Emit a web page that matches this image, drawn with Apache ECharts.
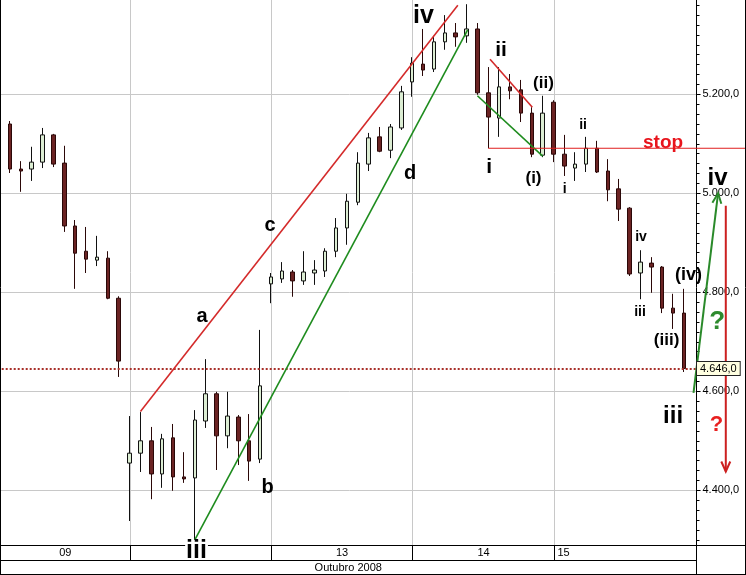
<!DOCTYPE html>
<html><head><meta charset="utf-8">
<script src="https://cdn.jsdelivr.net/npm/echarts@6/dist/echarts.min.js"></script>
<style>html,body{margin:0;padding:0;background:#fff}#c{width:746px;height:575px}</style>
</head><body><div id="c"></div>
<script>
// ---------- data ----------
const dayLabels = ['09', '10', '13', '14', '15'];
const candlesPerDay = [12, 13, 13, 13, 13];
const monthLabel = 'Outubro 2008';
const opens = [5138,5140,5049,5049,5063,5118,5061,4934,4883,4865,4869,4788,
  4455,4475,4500,4433,4506,4427,4425,4540,4595,4510,4548,4500,4463,
  4817,4827,4841,4823,4839,4843,4883,4930,4982,5059,5114,5087,5132,
  5225,5261,5251,5306,5324,5318,5332,5203,5152,5215,5209,5162,5077,
  5184,5079,5051,5059,5091,5045,5009,4970,4839,4859,4851,4768,4758];
const closes = [5124,5049,5045,5063,5118,5059,4934,4879,4867,4871,4788,4661,
  4475,4500,4433,4504,4427,4423,4542,4595,4510,4550,4500,4459,4611,
  4831,4843,4823,4841,4845,4883,4930,4984,5061,5112,5085,5134,5205,
  5263,5249,5306,5324,5316,5332,5203,5154,5215,5207,5162,5079,5162,
  5079,5055,5059,5091,5043,5007,4968,4837,4861,4851,4768,4758,4646];
const lows = [5118,5041,5003,5025,5051,5053,4922,4807,4839,4853,4786,4629,
  4338,4437,4382,4405,4399,4415,4300,4526,4441,4485,4451,4419,4455,
  4778,4819,4791,4815,4815,4831,4871,4896,4976,5045,5083,5071,5128,
  5195,5237,5245,5290,5296,5304,5199,5091,5114,5190,5144,5073,5073,
  5063,5035,5025,5043,5041,4984,4944,4833,4786,4799,4758,4726,4639];
const highs = [5144,5146,5065,5094,5132,5120,5096,4946,4932,4914,4883,4792,
  4550,4558,4528,4514,4534,4477,4562,4665,4599,4599,4552,4554,4724,
  4839,4861,4845,4883,4865,4889,4950,4999,5083,5122,5134,5140,5217,
  5275,5332,5318,5360,5344,5382,5344,5255,5255,5241,5229,5174,5197,
  5188,5118,5083,5114,5106,5069,5029,4972,4885,4871,4853,4797,4807];
const lastPrice = 4646;
const yMin = 4200, yMax = 5400, yStep = 200;

// annotations in (candle index, price) space
const trendRedAC = [[13, 4559], [42.2, 5380]];
const trendGreenBD = [[18, 4300], [43.1, 5330]];
const trendRedII = [[45.16, 5271], [49.05, 5174]];
const trendGreenI = [[44, 5197], [50, 5075]];
const stopLevel = 5091, stopFromIdx = 45.0;
const arrowUp = [[63.88, 4597], [66.14, 5000]];
const arrowDown = [[66.85, 4975], [66.85, 4438]];
const waveLabels = [
  ['iv', 39.04, 5357, 25, '#000'], ['iii', 18.16, 4277, 25, '#000'],
  ['a', 18.67, 4752, 20, '#000'], ['c', 24.92, 4935, 20, '#000'],
  ['b', 24.69, 4405, 20, '#000'], ['d', 37.8, 5040, 20, '#000'],
  ['ii', 46.17, 5290, 21, '#000'], ['i', 45.07, 5053, 21, '#000'],
  ['(ii)', 50.08, 5223, 17, '#000'], ['(i)', 49.16, 5030, 17, '#000'],
  ['stop', 61.08, 5103, 19, '#e8141c'],
  ['ii', 53.72, 5137, 14, '#000'], ['i', 52.02, 5009, 14, '#000'],
  ['iv', 59.05, 4911, 14, '#000'], ['iii', 58.96, 4759, 14, '#000'],
  ['(iv)', 63.42, 4835, 18, '#000'], ['(iii)', 61.4, 4704, 17, '#000'],
  ['iii', 62.0, 4550, 24, '#000'], ['iv', 66.09, 5031, 24, '#000'],
  ['?', 66.05, 4740, 26, '#2e8b2e'], ['?', 66.0, 4532, 22, '#e82020']
];

// ---------- build ----------
const categories = [];
const dayStart = [];
dayLabels.forEach((d, di) => {
  dayStart.push(categories.length);
  for (let k = 0; k < candlesPerDay[di]; k++) categories.push(d + ' #' + (k + 1));
});
categories.push('');
const candleData = opens.map((o, i) => [o, closes[i], lows[i], highs[i]]);

function fmt(v) {
  const s = v.toFixed(1).split('.');
  return s[0].replace(/\B(?=(\d{3})+(?!\d))/g, '.') + ',' + s[1];
}
const FONT = '"Liberation Sans", Arial, sans-serif';
const band = 10.87;
const chart = echarts.init(document.getElementById('c'), null, {renderer: 'canvas'});
chart.setOption({
  animation: false,
  backgroundColor: '#fff',
  grid: {left: -6.3, top: -4.7, width: band * categories.length, height: 594,
         show: false, containLabel: false, outerBoundsMode: 'none'},
  xAxis: {type: 'category', data: categories, boundaryGap: true,
          axisLine: {show: false}, axisTick: {show: false}, axisLabel: {show: false},
          splitLine: {show: false}},
  yAxis: {type: 'value', position: 'right', offset: -3.75, min: yMin, max: yMax, interval: yStep,
          axisLine: {show: true, lineStyle: {color: '#000', width: 1}},
          axisTick: {show: true, length: 4, lineStyle: {color: '#000'}},
          minorTick: {show: true, splitNumber: 10, length: 3, lineStyle: {color: '#000'}},
          axisLabel: {color: '#000', fontSize: 11, fontFamily: FONT, margin: 6,
                      formatter: v => (v === yMin || v === yMax) ? '' : fmt(v)},
          splitLine: {show: true, lineStyle: {color: '#c8c8c8', width: 1}}},
  series: [{
    type: 'candlestick', data: candleData, barWidth: 4,
    itemStyle: {color: '#dcedd3', color0: '#6b2323', borderColor: '#111', borderColor0: '#2b0808', borderWidth: 1},
    markLine: {silent: true, symbol: 'none', label: {show: false},
      data: [{yAxis: lastPrice, lineStyle: {color: '#a8302a', width: 2, type: [2, 2]}}]}
  }]
});

function px(idx, val) {
  const a = chart.convertToPixel({xAxisIndex: 0, yAxisIndex: 0}, [0, val]);
  const b = chart.convertToPixel({xAxisIndex: 0, yAxisIndex: 0}, [1, val]);
  return [a[0] + (b[0] - a[0]) * idx, a[1]];
}
const g = [];
function poly(pts, color, w, z) {
  g.push({type: 'polyline', silent: true, z: z || 20,
    shape: {points: pts.map(p => px(p[0], p[1]))}, style: {stroke: color, lineWidth: w, fill: null}});
}
function head(seg, color, w) {
  const p0 = px(seg[0][0], seg[0][1]), p1 = px(seg[1][0], seg[1][1]);
  const dx = p1[0] - p0[0], dy = p1[1] - p0[1], L = Math.hypot(dx, dy);
  const ux = dx / L, uy = dy / L, nx = -uy, ny = ux, hl = 10, hw = 4.5;
  g.push({type: 'polyline', silent: true, z: 30, shape: {points: [
    [p1[0] - ux * hl + nx * hw, p1[1] - uy * hl + ny * hw], p1,
    [p1[0] - ux * hl - nx * hw, p1[1] - uy * hl - ny * hw]]},
    style: {stroke: color, lineWidth: w, fill: null}});
}
const W = 746, H = 575;
// day gridlines (beneath candles)
dayStart.slice(1).forEach(i => {
  const x = Math.round(px(i, yMin)[0]) + 0.5;
  g.push({type: 'line', silent: true, z: 1, shape: {x1: x, y1: 0, x2: x, y2: 545}, style: {stroke: '#c8c8c8', lineWidth: 1}});
});
poly(trendRedAC, '#d42a2a', 1.6);
poly(trendGreenBD, '#1e8c1e', 1.6);
poly(trendRedII, '#d42a2a', 1.6);
poly(trendGreenI, '#1e8c1e', 1.6);
const sp = px(stopFromIdx, stopLevel);
g.push({type: 'line', silent: true, z: 20, shape: {x1: sp[0], y1: sp[1], x2: W, y2: sp[1]}, style: {stroke: '#e01e1e', lineWidth: 1}});
poly(arrowUp, '#2a8a2a', 2, 30); head(arrowUp, '#2a8a2a', 2);
poly(arrowDown, '#cc2020', 2, 30); head(arrowDown, '#cc2020', 2);

// bottom rows
const bandTop = 545, rowMid = 560.5, axisX = 696.5;
g.push({type: 'rect', silent: true, z: 50, shape: {x: 0, y: bandTop, width: W, height: H - bandTop}, style: {fill: '#fff'}});
const frame = [[0.5, 0, 0.5, H], [W - 0.5, 0, W - 0.5, H], [0, bandTop + 0.5, W, bandTop + 0.5],
  [0, rowMid, axisX, rowMid], [0, H - 0.5, W, H - 0.5], [axisX, bandTop, axisX, H]];
frame.forEach(f => g.push({type: 'line', silent: true, z: 55, shape: {x1: f[0], y1: f[1], x2: f[2], y2: f[3]}, style: {stroke: '#000', lineWidth: 1}}));
const starts = dayStart.map(i => Math.round(px(i, yMin)[0]) + 0.5);
starts.slice(1).forEach(x => g.push({type: 'line', silent: true, z: 55, shape: {x1: x, y1: bandTop, x2: x, y2: rowMid}, style: {stroke: '#000', lineWidth: 1}}));
const ends = starts.slice(1).concat([axisX]);
dayLabels.forEach((d, i) => {
  const last = i === dayLabels.length - 1;
  const x0 = i === 0 ? 0 : starts[i];
  g.push({type: 'text', silent: true, z: 56, x: last ? x0 + 3 : (x0 + ends[i]) / 2, y: (bandTop + rowMid) / 2 + 0.5,
    style: {text: d, font: '11px ' + FONT, fill: '#000', align: last ? 'left' : 'center', verticalAlign: 'middle'}});
});
g.push({type: 'text', silent: true, z: 56, x: axisX / 2, y: (rowMid + H) / 2,
  style: {text: monthLabel, font: '11px ' + FONT, fill: '#000', align: 'center', verticalAlign: 'middle'}});

// last price box
const lp = px(0, lastPrice);
g.push({type: 'text', silent: true, z: 60, x: axisX + 0.5, y: lp[1],
  style: {text: fmt(lastPrice), font: '11px ' + FONT, fill: '#000', align: 'left', verticalAlign: 'middle',
          backgroundColor: '#ffffe1', borderColor: '#222', borderWidth: 1, padding: [1, 3, 1, 3]}});

// wave labels
waveLabels.forEach((l, k) => {
  const p = px(l[1], l[2]);
  const st = {text: l[0], font: 'bold ' + l[3] + 'px ' + FONT, fill: l[4], align: 'center', verticalAlign: 'middle'};
  if (k === 1) { st.backgroundColor = '#fff'; st.padding = [-4, 1, -4, 1]; }
  g.push({type: 'text', silent: true, z: 70, x: p[0], y: p[1], style: st});
});
chart.setOption({graphic: {elements: g}});
</script></body></html>
